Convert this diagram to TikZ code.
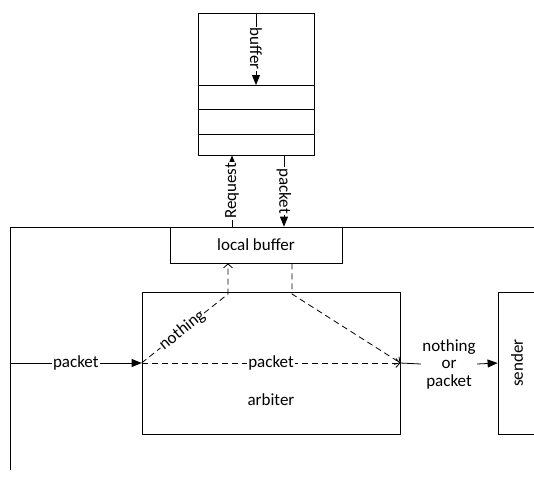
\documentclass[tikz,border=0pt]{standalone}
\usepackage{fontspec}
\setmainfont{Carlito}
\usetikzlibrary{arrows.meta,calc}
\tikzstyle{blk}=[draw, inner sep=0pt]
\tikzstyle{lbl}=[fill=white, inner sep=1pt]
\tikzstyle{solidarr}=[-{Triangle[length=10pt,width=8pt]}]
\tikzstyle{dasharr}=[dash pattern=on 6pt off 4pt, -{Straight Barb[length=4pt,width=9pt]}]

\begin{document}
\begin{tikzpicture}[x=1pt, y=-1pt, line width=0.8pt, font=\fontsize{17}{17.5}\selectfont]
	\useasboundingbox (0,0) rectangle (534,477);
	% buffer and its slots
	\node[blk, minimum width=116pt, minimum height=142pt] (buf) at (256,84) {};
	\foreach \y in {85,109,134}
		\draw (buf.west |- 0,\y) -- (buf.east |- 0,\y);
	\coordinate (slot) at (256,85);
	\draw[solidarr] (buf.north) -- node[lbl, rotate=-90] {buffer} (slot);
	% router frame
	\draw (534,227) -- (10,227) -- (10,470);
	\node[blk, minimum width=172pt, minimum height=36pt] (lb) at (256,245) {local buffer};
	\draw[solidarr] ([xshift=-24pt]lb.north) -- node[lbl, rotate=90] {Request} ([xshift=-24pt]buf.south);
	\draw[solidarr] ([xshift=28pt]buf.south) -- node[lbl, rotate=-90] {packet} ([xshift=28pt]lb.north);
	\node[blk, minimum width=258pt, minimum height=142pt] (arb) at (271,363) {};
	\node (arblbl) at (271,400) {arbiter};
	\node[blk, minimum width=38pt, minimum height=142pt] (snd) at (517,363) {};
	\node[rotate=90] (sndlbl) at (snd.center) {sender};
	% paths through the arbiter
	\coordinate (inp) at (10,363);
	\draw[solidarr] (inp) -- node[lbl] {packet} (arb.west);
	\coordinate (lbin) at ([xshift=-28pt]lb.south);
	\coordinate (lbout) at ([xshift=36pt]lb.south);
	\coordinate (upbend) at (228,294);
	\coordinate (downbend) at (292,294);
	\draw[dasharr] (arb.west) -- node[lbl, sloped, pos=0.47] {nothing} (upbend) -- (lbin);
	\draw[dasharr] (lbout) -- (downbend) -- (arb.east);
	\draw[dasharr] (arb.west) -- node[lbl] {packet} (arb.east);
	\node[align=center, inner sep=1pt] (out) at (449,364) {nothing\\or\\packet};
	\draw (arb.east) -- (out.west);
	\draw[solidarr] (out.east) -- (snd.west);
\end{tikzpicture}
\end{document}
